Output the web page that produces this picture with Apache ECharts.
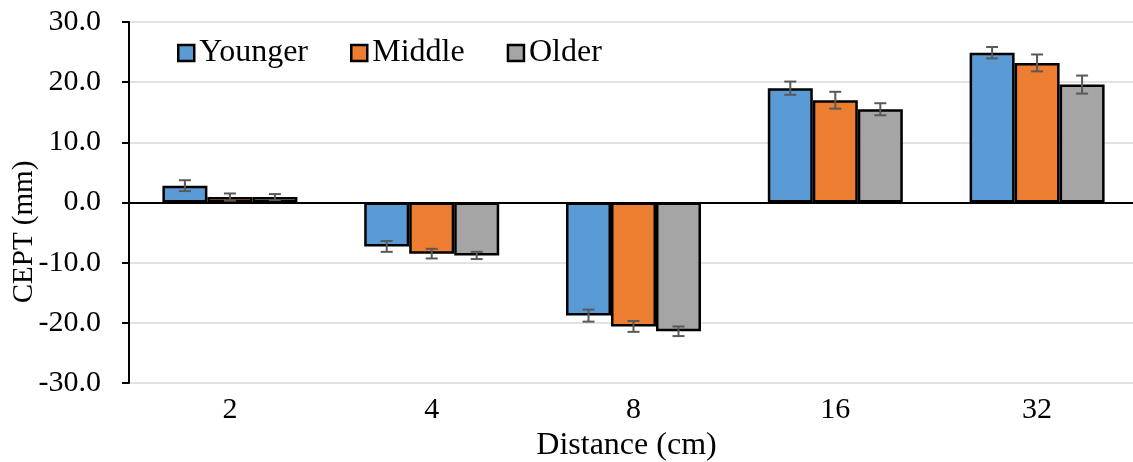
<!DOCTYPE html>
<html>
<head>
<meta charset="utf-8">
<script src="https://cdn.jsdelivr.net/npm/echarts@6/dist/echarts.min.js"></script>
<style>html,body{margin:0;padding:0;background:#fff}#c{width:1133px;height:462px}</style>
</head>
<body>
<div id="c"></div>
<script>
const categories = ['2', '4', '8', '16', '32'];
const seriesNames = ['Younger', 'Middle', 'Older'];
const younger = [2.8, -7.3, -18.8, 19.0, 24.9];
const middle = [0.9, -8.5, -20.6, 17.0, 23.2];
const older = [0.9, -8.8, -21.4, 15.5, 19.6];
const youngerErr = [0.9, 0.9, 1.0, 1.1, 0.95];
const middleErr = [0.6, 0.8, 0.9, 1.4, 1.4];
const olderErr = [0.5, 0.6, 0.8, 1.0, 1.5];
const yTicks = [-30, -20, -10, 0, 10, 20, 30];

const colors = ['#5b9bd5', '#ed7d31', '#a5a5a5'];
const values = [younger, middle, older];
const errors = [youngerErr, middleErr, olderErr];
const BAR_W = 45;
const FONT = '"Liberation Serif", "Times New Roman", serif';

const chart = echarts.init(document.getElementById('c'));

const barSeries = seriesNames.map((name, i) => ({
  name: name,
  type: 'bar',
  data: values[i],
  barWidth: BAR_W,
  barGap: '0%',
  itemStyle: { color: colors[i], borderColor: '#000', borderWidth: 2.5 },
  z: 2
}));

const errSeries = seriesNames.map((name, i) => ({
  type: 'custom',
  name: name + '_err',
  data: values[i].map((v, k) => [k, v, errors[i][k]]),
  z: 5,
  silent: true,
  renderItem: function (params, api) {
    const k = api.value(0), v = api.value(1), e = api.value(2);
    const off = (i - 1) * BAR_W;
    const top = api.coord([k, v + e]);
    const bot = api.coord([k, v - e]);
    const x = top[0] + off;
    const cap = 6;
    const st = { stroke: '#595959', lineWidth: 2 };
    return {
      type: 'group',
      children: [
        { type: 'line', shape: { x1: x, y1: top[1], x2: x, y2: bot[1] }, style: st },
        { type: 'line', shape: { x1: x - cap, y1: top[1], x2: x + cap, y2: top[1] }, style: st },
        { type: 'line', shape: { x1: x - cap, y1: bot[1], x2: x + cap, y2: bot[1] }, style: st }
      ]
    };
  }
}));

barSeries[0].markLine = {
  silent: true,
  symbol: 'none',
  label: { show: false },
  lineStyle: { color: '#000', width: 2, type: 'solid' },
  data: [{ yAxis: 0 }],
  z: 3
};

chart.setOption({
  animation: false,
  textStyle: { fontFamily: FONT },
  grid: { left: 129, top: 22, width: 1009, height: 361, outerBoundsMode: 'none', containLabel: false },
  legend: {
    data: seriesNames,
    icon: 'rect',
    left: 172,
    top: 32,
    itemWidth: 16,
    itemHeight: 16,
    itemGap: 42,
    itemStyle: { borderColor: '#000', borderWidth: 2.5 },
    textStyle: { fontFamily: FONT, fontSize: 32, color: '#000' }
  },
  graphic: [{
    type: 'text',
    x: 24,
    y: 232,
    rotation: Math.PI / 2,
    style: {
      text: 'CEPT (mm)',
      font: '29px ' + FONT,
      fill: '#000',
      align: 'center',
      verticalAlign: 'middle'
    }
  }],
  xAxis: {
    type: 'category',
    data: categories,
    axisLine: { show: false, onZero: false },
    axisTick: { show: false },
    axisLabel: { color: '#000', fontSize: 30, fontFamily: FONT, margin: 12 },
    name: 'Distance (cm)',
    nameLocation: 'middle',
    nameGap: 36,
    nameTextStyle: { color: '#000', fontSize: 32, fontFamily: FONT, padding: [0, 14, 0, 0] }
  },
  yAxis: {
    type: 'value',
    min: yTicks[0],
    max: yTicks[yTicks.length - 1],
    interval: 10,
    axisLine: { show: true, lineStyle: { color: '#000', width: 2 } },
    axisTick: { show: true, inside: false, length: 7, lineStyle: { color: '#000', width: 2 } },
    axisLabel: { color: '#000', fontSize: 30, fontFamily: FONT, margin: 28, formatter: v => v.toFixed(1) },
    splitLine: { show: true, lineStyle: { color: '#d9d9d9', width: 1.5 } }
  },
  series: barSeries.concat(errSeries)
});
</script>
</body>
</html>
